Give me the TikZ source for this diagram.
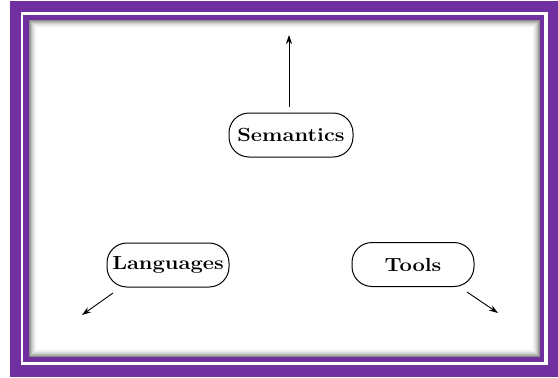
\documentclass[tikz,border=0pt]{standalone}
\usetikzlibrary{arrows.meta}
\definecolor{framepurple}{HTML}{7030A0}
\tikzset{
  term/.style={draw, line width=1pt, rounded corners=20pt, minimum height=44pt, inner sep=0pt,
    font=\fontsize{19}{21}\selectfont\bfseries},
  conn/.style={line width=0.9pt, -{Stealth[length=9pt,width=6pt]}}
}
\begin{document}
\begin{tikzpicture}[x=1pt,y=-1pt]
\useasboundingbox (0,0) rectangle (558,378);
% frame
\fill[framepurple] (10,1) rectangle (558,377);
\fill[white] (21,12) rectangle (548,365);
\fill[framepurple] (23,15) rectangle (544,362);
\foreach \i/\c in {0/45,1/35,2/26,3/19,4/13,5/8,6/4,7/2}
  \fill[black!\c] (29+\i,20+\i) rectangle (540-\i,357-\i);
\fill[white] (37,28) rectangle (532,349);
% nodes
\node[term, minimum width=124pt] (sem) at (291,135) {\scalebox{1.15}[1]{Semantics}};
\node[term, minimum width=122pt] (lang) at (168,265) {\scalebox{1.15}[1]{Languages}};
\node[term, minimum width=122pt] (tools) at (413,264.5) {\scalebox{1.15}[1]{Tools}};
% connectors
\coordinate (semtip) at (289,35);
\coordinate (langs) at (113,293);
\coordinate (langt) at (82,315);
\coordinate (tools1) at (467,292);
\coordinate (toolt) at (498,313);
\draw[conn] (sem.north -| semtip) ++(0,-6) -- (semtip);
\draw[conn] (langs) -- (langt);
\draw[conn] (tools1) -- (toolt);
\end{tikzpicture}
\end{document}
